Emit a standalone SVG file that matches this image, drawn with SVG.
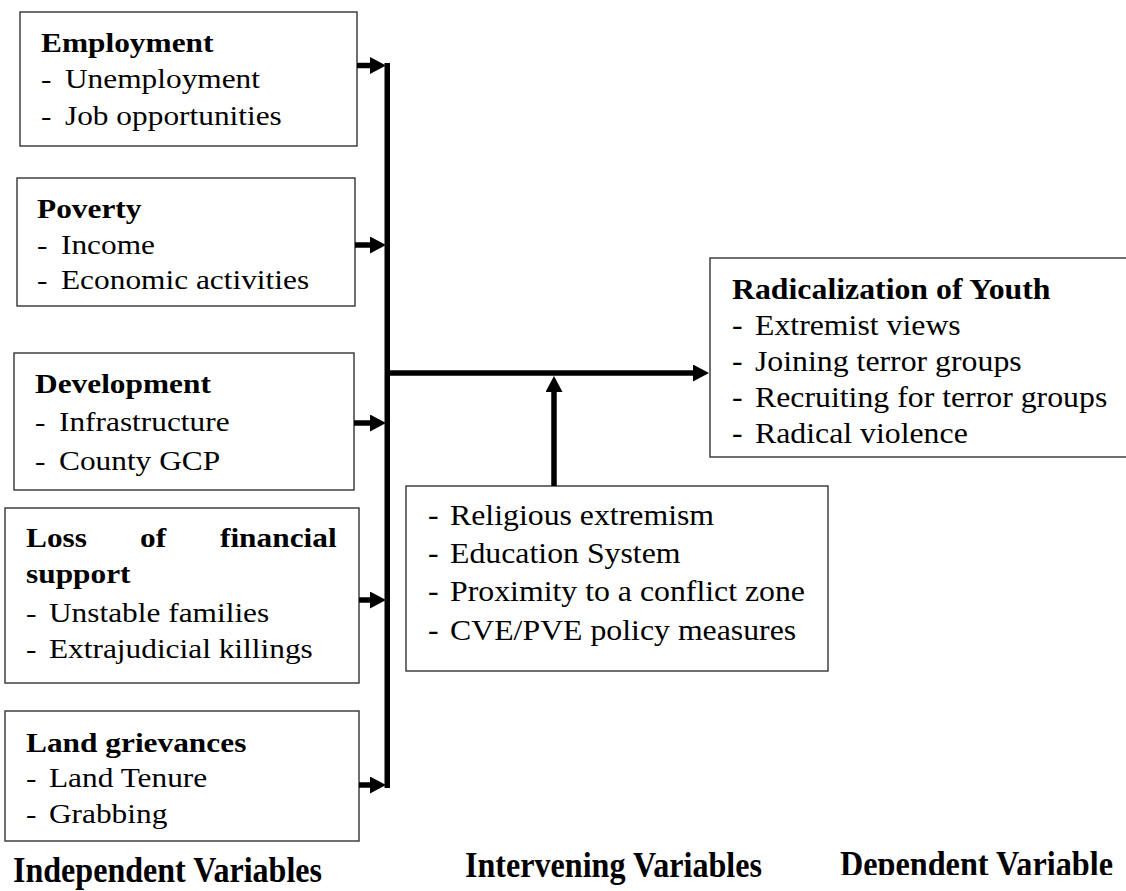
<svg xmlns="http://www.w3.org/2000/svg" width="1126" height="891" viewBox="0 0 1126 891">
<style>
.box{fill:#fff;stroke:#333;stroke-width:1.4}
.t{font-family:"Liberation Serif","Times New Roman",serif;fill:#000}
.l{font-size:28px}
.r{font-size:30px}
.b{font-weight:bold}
.lab{font-family:"Liberation Serif","Times New Roman",serif;font-weight:bold;font-size:35px;fill:#000}
.conn{stroke:#000;stroke-width:5.5;fill:none}
</style>
<defs>
<marker id="ah" viewBox="0 0 16 17" refX="4" refY="8.5" markerWidth="16" markerHeight="17" markerUnits="userSpaceOnUse" orient="auto">
<path d="M0,0 L16,8.5 L0,17 Z" fill="#000"/>
</marker>
<clipPath id="clipDep"><rect x="800" y="820" width="326" height="55"/></clipPath>
</defs>
<rect width="1126" height="891" fill="#fff"/>

<g id="employment">
<rect class="box" x="20" y="12" width="337" height="134"/>
<g class="t l" transform="translate(41,0) scale(1.12,1)">
<text class="b" x="0" y="52">Employment</text>
<text x="0" y="88">-<tspan x="21.4">Unemployment</tspan></text>
<text x="0" y="125">-<tspan x="21.4">Job opportunities</tspan></text>
</g>
</g>

<g id="poverty">
<rect class="box" x="17" y="178" width="338" height="128"/>
<g class="t l" transform="translate(37,0) scale(1.12,1)">
<text class="b" x="0" y="218">Poverty</text>
<text x="0" y="254">-<tspan x="21.4">Income</tspan></text>
<text x="0" y="289">-<tspan x="21.4">Economic activities</tspan></text>
</g>
</g>

<g id="development">
<rect class="box" x="14" y="353" width="340" height="137"/>
<g class="t l" transform="translate(35,0) scale(1.12,1)">
<text class="b" x="0" y="393">Development</text>
<text x="0" y="431">-<tspan x="21.4">Infrastructure</tspan></text>
<text x="0" y="470">-<tspan x="21.4">County GCP</tspan></text>
</g>
</g>

<g id="loss">
<rect class="box" x="5" y="508" width="354" height="175"/>
<g class="t l" transform="translate(26,0) scale(1.12,1)">
<text class="b" x="0" y="547">Loss<tspan x="101.8">of</tspan><tspan x="173.2">financial</tspan></text>
<text class="b" x="0" y="583">support</text>
<text x="0" y="622">-<tspan x="20.5">Unstable families</tspan></text>
<text x="0" y="658">-<tspan x="20.5">Extrajudicial killings</tspan></text>
</g>
</g>

<g id="land">
<rect class="box" x="5" y="711" width="354" height="130"/>
<g class="t l" transform="translate(26,0) scale(1.12,1)">
<text class="b" x="0" y="752">Land grievances</text>
<text x="0" y="787">-<tspan x="20.5">Land Tenure</tspan></text>
<text x="0" y="823">-<tspan x="20.5">Grabbing</tspan></text>
</g>
</g>

<g id="radicalization">
<rect class="box" x="710" y="258" width="420" height="199"/>
<g class="t r" transform="translate(732,0) scale(1.06,1)">
<text class="b" x="0" y="299">Radicalization of Youth</text>
<text x="0" y="335">-<tspan x="21.7">Extremist views</tspan></text>
<text x="0" y="371">-<tspan x="21.7">Joining terror groups</tspan></text>
<text x="0" y="407">-<tspan x="21.7">Recruiting for terror groups</tspan></text>
<text x="0" y="443">-<tspan x="21.7">Radical violence</tspan></text>
</g>
</g>

<g id="intervening">
<rect class="box" x="406" y="486" width="422" height="185"/>
<g class="t r" transform="translate(428,0) scale(1.06,1)">
<text x="0" y="525">-<tspan x="20.8">Religious extremism</tspan></text>
<text x="0" y="563">-<tspan x="20.8">Education System</tspan></text>
<text x="0" y="601">-<tspan x="20.8">Proximity to a conflict zone</tspan></text>
<text x="0" y="640">-<tspan x="20.8">CVE/PVE policy measures</tspan></text>
</g>
</g>

<g id="connectors">
<rect x="384.5" y="63" width="5.5" height="725" fill="#000"/>
<line class="conn" x1="357" y1="65.5" x2="374" y2="65.5" marker-end="url(#ah)"/>
<line class="conn" x1="355" y1="245" x2="374" y2="245" marker-end="url(#ah)"/>
<line class="conn" x1="354" y1="423" x2="374" y2="423" marker-end="url(#ah)"/>
<line class="conn" x1="359" y1="600" x2="374" y2="600" marker-end="url(#ah)"/>
<line class="conn" x1="359" y1="785" x2="374" y2="785" marker-end="url(#ah)"/>
<line class="conn" x1="390" y1="373" x2="697" y2="373" marker-end="url(#ah)"/>
<line class="conn" x1="554" y1="486" x2="554" y2="388" marker-end="url(#ah)"/>
</g>

<g id="labels">
<text class="lab" x="13" y="882" textLength="309" lengthAdjust="spacingAndGlyphs">Independent Variables</text>
<text class="lab" x="465" y="877" textLength="297" lengthAdjust="spacingAndGlyphs">Intervening Variables</text>
<text class="lab" x="840" y="876" textLength="273" lengthAdjust="spacingAndGlyphs" clip-path="url(#clipDep)">Dependent Variable</text>
</g>
</svg>
